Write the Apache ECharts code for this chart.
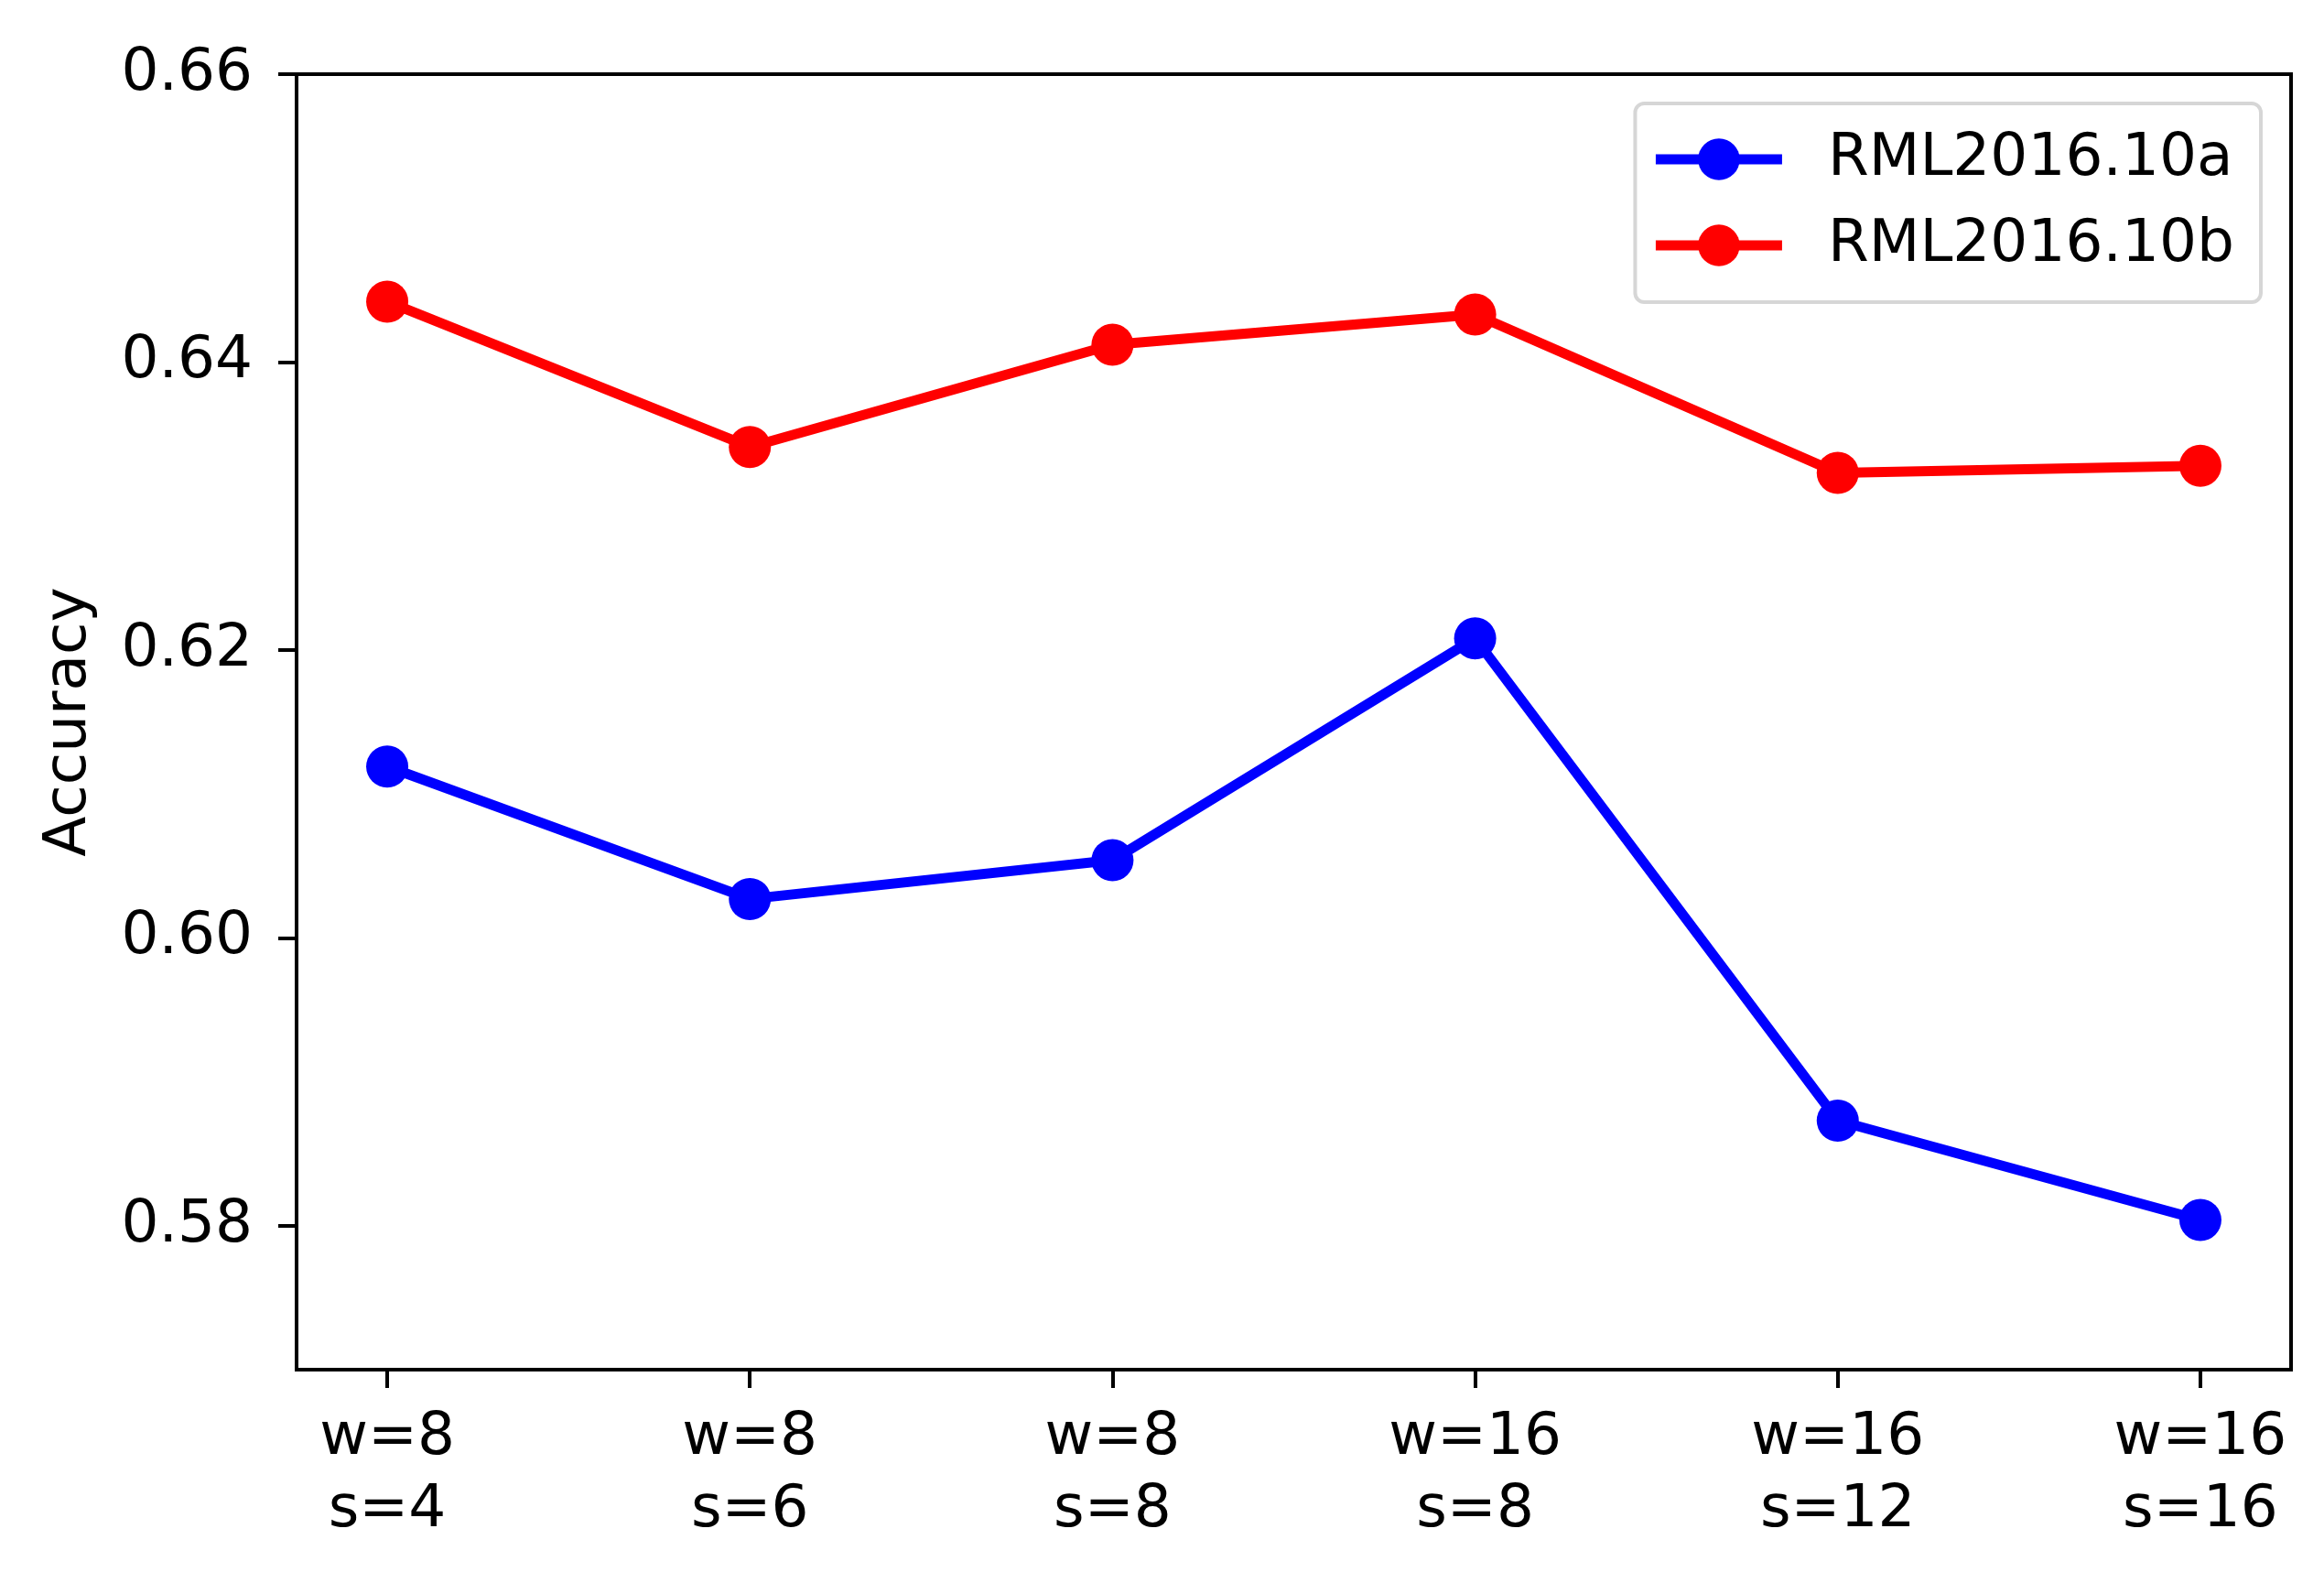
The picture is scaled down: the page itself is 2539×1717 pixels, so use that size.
<!DOCTYPE html>
<html>
<head>
<meta charset="utf-8">
<script src="https://cdn.jsdelivr.net/npm/echarts@6/dist/echarts.min.js"></script>
<style>
html,body{margin:0;padding:0;background:#fff;}
#c{width:2539px;height:1717px;}
</style>
</head>
<body>
<div id="c"></div>
<script>
const categories = ["w=8\ns=4", "w=8\ns=6", "w=8\ns=8", "w=16\ns=8", "w=16\ns=12", "w=16\ns=16"];
const accA = [0.6119, 0.6027, 0.6054, 0.6208, 0.5873, 0.5804];
const accB = [0.6442, 0.6341, 0.6412, 0.6433, 0.6323, 0.6328];
const yTicks = [0.58, 0.60, 0.62, 0.64, 0.66];
const seriesNames = ["RML2016.10a", "RML2016.10b"];

const xIdx = categories.map((_, i) => i);
const font = "DejaVu Sans";
const fs = 64.5;
const chart = echarts.init(document.getElementById('c'));
const mk = (vals) => vals.map((v, i) => [i, v]);

chart.setOption({
  backgroundColor: '#fff',
  animation: false,
  textStyle: { fontFamily: font },
  grid: {
    left: 324, right: 36, top: 81, bottom: 221,
    show: true, borderColor: '#000', borderWidth: 4, backgroundColor: 'transparent'
  },
  legend: {
    orient: 'vertical',
    right: 69, top: 113,
    align: 'left',
    itemWidth: 138, itemHeight: 57,
    itemGap: 28,
    padding: [28, 29, 29, 17],
    backgroundColor: '#fff',
    borderColor: '#d6d6d6', borderWidth: 4, borderRadius: 10,
    lineStyle: { width: 11 },
    textStyle: { fontFamily: font, fontSize: fs, color: '#000', padding: [0, 0, 0, 45], lineHeight: 66 },
    data: seriesNames
  },
  xAxis: {
    type: 'value', min: -0.25, max: 5.25,
    axisLine: { show: true, onZero: false, lineStyle: { color: '#000', width: 4 } },
    axisTick: { show: true, length: 20, lineStyle: { color: '#000', width: 4 }, customValues: xIdx },
    splitLine: { show: false },
    axisLabel: {
      customValues: xIdx,
      formatter: (v) => categories[Math.round(v)] || '',
      fontFamily: font, fontSize: fs, color: '#000', lineHeight: 79, margin: 36
    }
  },
  yAxis: {
    type: 'value', min: 0.57, max: 0.66,
    name: 'Accuracy', nameLocation: 'middle', nameGap: 215,
    nameTextStyle: { fontFamily: font, fontSize: fs, color: '#000' },
    axisLine: { show: true, onZero: false, lineStyle: { color: '#000', width: 4 } },
    axisTick: { show: true, length: 20, lineStyle: { color: '#000', width: 4 }, customValues: yTicks },
    splitLine: { show: false },
    axisLabel: {
      customValues: yTicks,
      formatter: (v) => v.toFixed(2),
      fontFamily: font, fontSize: fs, color: '#000', margin: 48
    }
  },
  series: [
    {
      name: seriesNames[0], type: 'line', data: mk(accA),
      symbol: 'circle', symbolSize: 46,
      lineStyle: { color: '#0000ff', width: 11 },
      itemStyle: { color: '#0000ff' }
    },
    {
      name: seriesNames[1], type: 'line', data: mk(accB),
      symbol: 'circle', symbolSize: 46,
      lineStyle: { color: '#ff0000', width: 11 },
      itemStyle: { color: '#ff0000' }
    }
  ]
});
</script>
</body>
</html>
